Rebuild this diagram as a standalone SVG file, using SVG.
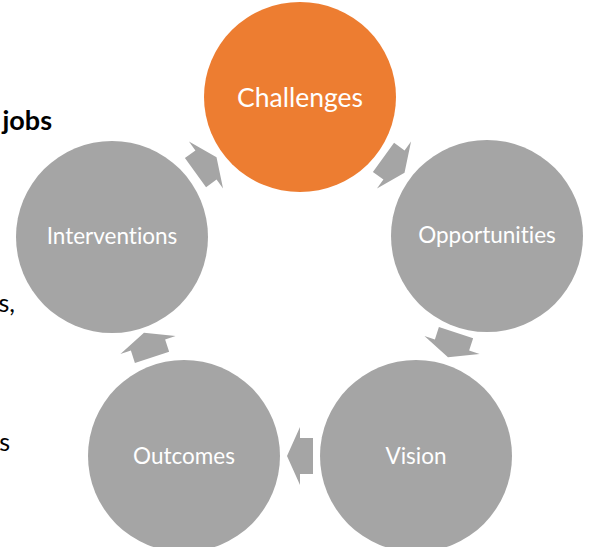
<svg xmlns="http://www.w3.org/2000/svg" width="590" height="547" viewBox="0 0 590 547">
<defs>
<style>
.node{fill:#A5A5A5}
.hot{fill:#ED7D31}
.lbl{font-family:Lato,"Open Sans","Liberation Sans",sans-serif;fill:#FFFFFF;text-anchor:middle;font-size:22.5px;font-variant-ligatures:none}
.side{font-family:Lato,"Liberation Sans",sans-serif;fill:#000000;text-anchor:end;font-size:25px;font-variant-ligatures:none}
.arr{fill:#A5A5A5}
</style>
<polygon id="arrow" points="13,0 0,29 0,18 -13,18 -13,-18 0,-18 0,-29"/>
</defs>
<rect width="590" height="547" fill="#FFFFFF"/>
<text class="side" x="52" y="130" font-weight="bold" style="font-size:27px">jobs</text>
<text class="side" x="15" y="312">s,</text>
<text class="side" x="10" y="451">s</text>
<g id="connectors">
<use href="#arrow" class="arr" transform="translate(394,165) rotate(36)"/>
<use href="#arrow" class="arr" transform="translate(452,345) rotate(108)"/>
<use href="#arrow" class="arr" transform="translate(300,456) rotate(180)"/>
<use href="#arrow" class="arr" transform="translate(148,345) rotate(252)"/>
<use href="#arrow" class="arr" transform="translate(206,165) rotate(324)"/>
</g>
<g id="challenges">
<ellipse class="hot" cx="300" cy="97" rx="96" ry="95"/>
<text class="lbl" x="300" y="107" style="font-size:26.5px">Challenges</text>
</g>
<g id="opportunities">
<circle class="node" cx="487" cy="236" r="96"/>
<text class="lbl" x="487" y="243">Opportunities</text>
</g>
<g id="vision">
<circle class="node" cx="416" cy="456" r="96"/>
<text class="lbl" x="416" y="464">Vision</text>
</g>
<g id="outcomes">
<circle class="node" cx="184" cy="456" r="96"/>
<text class="lbl" x="184" y="464">Outcomes</text>
</g>
<g id="interventions">
<circle class="node" cx="112" cy="237" r="96"/>
<text class="lbl" x="112" y="244">Interventions</text>
</g>
</svg>
